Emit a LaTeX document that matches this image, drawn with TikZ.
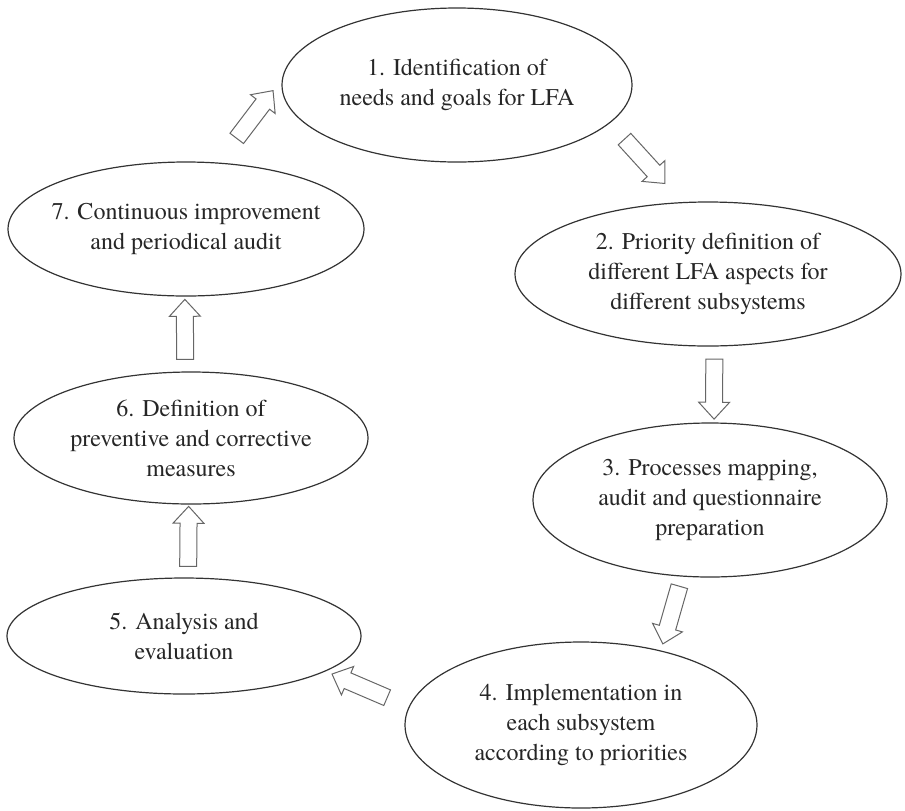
\documentclass[tikz,border=0pt]{standalone}
\usepackage{fontspec}
\setmainfont{TeX Gyre Termes}
\usetikzlibrary{shapes.geometric,shapes.arrows}

\begin{document}
\begin{tikzpicture}[
  x=0.5pt, y=-0.5pt,
  stage/.style={ellipse, draw=black!80, line width=0.6pt, align=center, inner xsep=-8pt, inner ysep=0pt, text=black!85, font=\fontsize{12}{15}\selectfont},
  blk/.style={single arrow, draw=black!60, line width=0.5pt, fill=white, minimum height=30pt, inner xsep=0pt, inner ysep=4pt, single arrow head extend=3.5pt, single arrow tip angle=85, sloped, allow upside down}
]
\useasboundingbox (0,0) rectangle (905,810);

\node[stage, minimum width=175pt, minimum height=77pt] (needs) at (457,85) {1. Identification of\\needs and goals for LFA};
\node[stage, minimum width=193pt, minimum height=72pt] (prio) at (708,274) {2. Priority definition of\\different LFA aspects for\\different subsystems};
\node[stage, minimum width=177pt, minimum height=77pt] (maps) at (710,500) {3. Processes mapping,\\audit and questionnaire\\preparation};
\node[stage, minimum width=176pt, minimum height=83pt] (impl) at (581,725) {4. Implementation in\\each subsystem\\according to priorities};
\node[stage, minimum width=177pt, minimum height=58pt] (anal) at (184,636) {5. Analysis and\\evaluation};
\node[stage, minimum width=177pt, minimum height=66pt] (meas) at (191,438) {6. Definition of\\preventive and corrective\\measures};
\node[stage, minimum width=178pt, minimum height=67pt] (impr) at (186,229) {7. Continuous improvement\\and periodical audit};

\path (needs.-14.5) -- node[blk, pos=0.44] (a12) {} (prio.110.5);
\path (prio.-85) -- node[blk] (a23) {} (maps.87);
\path (maps.-110.3) -- node[blk, pos=0.46] (a34) {} (impl.43.9);
\path (impl.174.5) -- node[blk, pos=0.54] (a45) {} (anal.-14.8);
\path (anal.86) -- node[blk] (a56) {} (meas.-92.6);
\path (meas.95) -- node[blk] (a67) {} (impr.-91);
\path (impr.64.9) -- node[blk, pos=0.53] (a71) {} (needs.178.9);
\end{tikzpicture}
\end{document}
